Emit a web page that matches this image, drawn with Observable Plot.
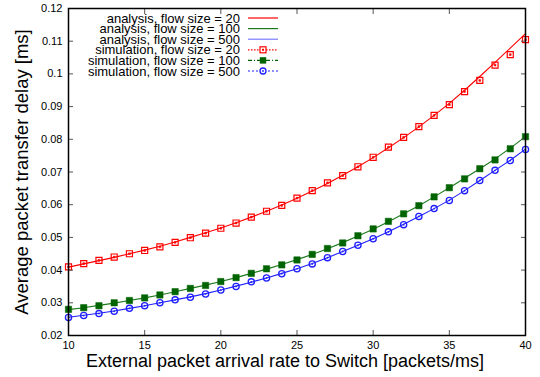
<!DOCTYPE html>
<html>
<head>
<meta charset="utf-8">
<script src="https://cdn.jsdelivr.net/npm/d3@7"></script>
<script src="https://cdn.jsdelivr.net/npm/@observablehq/plot@0.6"></script>
<style>
  html, body { margin: 0; padding: 0; background: white; }
  #wrap { position: relative; width: 540px; height: 377px; }
  #wrap svg { position: absolute; left: 0; top: 0; }
</style>
</head>
<body>
<div id="wrap"></div>
<script>
const rates = d3.range(10, 41);

const simFlow20 = [0.0410,0.0420,0.0430,0.0440,0.0450,0.0460,0.0471,0.0485,0.0499,0.0513,0.0528,0.0544,0.0562,0.0580,0.0598,0.0620,0.0643,0.0667,0.0689,0.0716,0.0745,0.0776,0.0806,0.0839,0.0873,0.0906,0.0946,0.0980,0.1027,0.1059,0.1105];
const simFlow100 = [0.0280,0.0285,0.0291,0.0300,0.0307,0.0315,0.0324,0.0334,0.0344,0.0353,0.0365,0.0377,0.0390,0.0404,0.0416,0.0431,0.0448,0.0466,0.0483,0.0505,0.0526,0.0549,0.0572,0.0597,0.0624,0.0652,0.0679,0.0710,0.0737,0.0771,0.0808];
const simFlow500 = [0.0255,0.0261,0.0267,0.0274,0.0283,0.0291,0.0300,0.0309,0.0317,0.0327,0.0339,0.0350,0.0364,0.0376,0.0389,0.0404,0.0419,0.0438,0.0457,0.0476,0.0496,0.0517,0.0539,0.0564,0.0588,0.0613,0.0643,0.0674,0.0705,0.0735,0.0769];

const anaFlow20 = [0.0409,0.0419,0.0429,0.0439,0.0450,0.0461,0.0473,0.0486,0.0500,0.0514,0.0529,0.0545,0.0562,0.0580,0.0599,0.0620,0.0642,0.0665,0.0690,0.0716,0.0744,0.0774,0.0805,0.0838,0.0873,0.0910,0.0950,0.0992,0.1035,0.1079,0.1123];
const anaFlow100 = [0.0279,0.0285,0.0292,0.0299,0.0307,0.0315,0.0324,0.0334,0.0344,0.0354,0.0365,0.0377,0.0390,0.0403,0.0417,0.0432,0.0448,0.0465,0.0484,0.0504,0.0525,0.0548,0.0572,0.0597,0.0624,0.0652,0.0681,0.0710,0.0740,0.0773,0.0808];
const anaFlow500 = [0.0256,0.0262,0.0268,0.0275,0.0283,0.0291,0.0300,0.0309,0.0318,0.0328,0.0339,0.0351,0.0363,0.0376,0.0390,0.0404,0.0420,0.0438,0.0457,0.0476,0.0496,0.0517,0.0540,0.0564,0.0588,0.0614,0.0643,0.0674,0.0705,0.0736,0.0770];

const xTicks = [10, 15, 20, 25, 30, 35, 40];
const yTicks = [0.02, 0.03, 0.04, 0.05, 0.06, 0.07, 0.08, 0.09, 0.10, 0.11, 0.12];

const legendLabels = ["analysis, flow size = 20", "analysis, flow size = 100", "analysis, flow size = 500",
                      "simulation, flow size = 20", "simulation, flow size = 100", "simulation, flow size = 500"];

const RED = "#ff0000", GREEN = "#006400", GREENLINE = "#1a7a1a", BLUE = "#1f1fff";

const toRows = (vals) => rates.map((x, i) => ({x, y: vals[i]}));
const a20 = toRows(anaFlow20), a100 = toRows(anaFlow100), a500 = toRows(anaFlow500);
const s20 = toRows(simFlow20), s100 = toRows(simFlow100), s500 = toRows(simFlow500);

const fmtY = d => String(+d.toFixed(2));
const FONT = "'Liberation Sans', Arial, Helvetica, sans-serif";

const chart = Plot.plot({
  width: 540, height: 377,
  marginLeft: 68, marginRight: 15, marginTop: 8, marginBottom: 42,
  x: {domain: [10, 40]},
  y: {domain: [0.02, 0.12]},
  style: {fontFamily: FONT, fontSize: "11px", color: "#000", background: "white"},
  marks: [
    Plot.line(a20, {x: "x", y: "y", stroke: RED, strokeWidth: 1.1}),
    Plot.line(a100, {x: "x", y: "y", stroke: GREENLINE, strokeWidth: 1.1}),
    Plot.line(a500, {x: "x", y: "y", stroke: BLUE, strokeWidth: 1.1}),
    Plot.dot(s20, {x: "x", y: "y", symbol: "square", r: 3.4, stroke: RED, fill: "white", fillOpacity: 0, strokeWidth: 1.2}),
    Plot.dot(s20, {x: "x", y: "y", symbol: "square", r: 1, stroke: RED, fill: RED, strokeWidth: 0.6}),
    Plot.dot(s100, {x: "x", y: "y", symbol: "square", r: 3.6, fill: GREEN, stroke: GREEN, strokeWidth: 0.5}),
    Plot.dot(s500, {x: "x", y: "y", symbol: "circle", r: 3.1, stroke: BLUE, fill: "none", strokeWidth: 1.3}),
    Plot.dot(s500, {x: "x", y: "y", symbol: "circle", r: 0.9, fill: BLUE, stroke: "none"}),
    Plot.axisX({anchor: "bottom", ticks: xTicks, tickSize: -5, tickPadding: 11, label: null, stroke: "#555", fontSize: 11}),
    Plot.axisX({anchor: "top", ticks: xTicks, tickSize: -5, tickFormat: () => "", label: null, stroke: "#555"}),
    Plot.axisY({anchor: "left", ticks: yTicks, tickSize: -5, tickPadding: 11, tickFormat: fmtY, label: null, stroke: "#555", fontSize: 11}),
    Plot.axisY({anchor: "right", ticks: yTicks, tickSize: -5, tickFormat: () => "", label: null, stroke: "#555"}),
    Plot.frame({stroke: "#000", strokeWidth: 1.5}),
    Plot.text(["External packet arrival rate to Switch [packets/ms]"], {frameAnchor: "bottom", lineAnchor: "middle", dy: 26, dx: -12, fontSize: 18, fill: "#000"}),
    Plot.text(["Average packet transfer delay [ms]"], {frameAnchor: "left", textAnchor: "middle", lineAnchor: "middle", dx: -46, rotate: -90, fontSize: 18.5, fill: "#000"})
  ]
});
document.getElementById("wrap").appendChild(chart);

// Legend overlay (inside plot, top-left)
const leg = d3.select("#wrap").append("svg")
  .attr("width", 540).attr("height", 377)
  .style("font-family", FONT).style("pointer-events", "none");
const rowY = i => 18 + i * 10.6;
const textX = 240, lineX1 = 248, lineX2 = 278, midX = 263;
const styles = [
  {stroke: RED, dash: null, marker: null},
  {stroke: GREENLINE, dash: null, marker: null},
  {stroke: BLUE, dash: null, marker: null, opacity: 0.6},
  {stroke: RED, dash: "1.5,1.5", marker: "sq"},
  {stroke: GREEN, dash: "4,2,1,2", marker: "fsq"},
  {stroke: BLUE, dash: "2,2", marker: "circ"}
];
legendLabels.forEach((lab, i) => {
  const y = rowY(i);
  leg.append("text").attr("x", textX).attr("y", y).attr("dy", "0.35em")
    .attr("text-anchor", "end").attr("font-size", 13).attr("fill", "#000").text(lab);
  const s = styles[i];
  leg.append("line").attr("x1", lineX1).attr("x2", lineX2).attr("y1", y).attr("y2", y)
    .attr("stroke", s.stroke).attr("stroke-width", 1.2)
    .attr("stroke-dasharray", s.dash).attr("stroke-opacity", s.opacity || 1);
  if (s.marker === "sq") {
    leg.append("rect").attr("x", midX - 3).attr("y", y - 3).attr("width", 6).attr("height", 6)
      .attr("fill", "white").attr("stroke", RED).attr("stroke-width", 1.2);
    leg.append("rect").attr("x", midX - 1).attr("y", y - 1).attr("width", 2).attr("height", 2).attr("fill", RED);
  } else if (s.marker === "fsq") {
    leg.append("rect").attr("x", midX - 3.2).attr("y", y - 3.2).attr("width", 6.4).attr("height", 6.4).attr("fill", GREEN);
  } else if (s.marker === "circ") {
    leg.append("circle").attr("cx", midX).attr("cy", y).attr("r", 3).attr("fill", "white").attr("stroke", BLUE).attr("stroke-width", 1.3);
    leg.append("circle").attr("cx", midX).attr("cy", y).attr("r", 0.9).attr("fill", BLUE);
  }
});
</script>
</body>
</html>
